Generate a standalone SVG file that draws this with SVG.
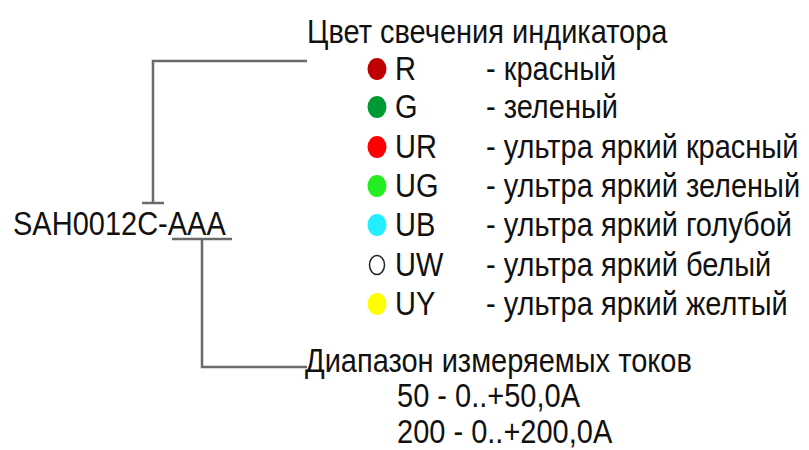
<svg xmlns="http://www.w3.org/2000/svg" width="809" height="450" viewBox="0 0 809 450">
<style>
text{font-family:"Liberation Sans",Arial,sans-serif;font-size:29px;fill:#111}
.ln{fill:none;stroke:#6a6a6a;stroke-width:2.5}
</style>
<rect width="809" height="450" fill="#fff"/>
<g id="connectors">
<polyline class="ln" points="307,61 153,61 153,203"/>
<line class="ln" x1="142" y1="203" x2="164" y2="203"/>
<line class="ln" x1="172" y1="239" x2="232" y2="239"/>
<polyline class="ln" points="202,239 202,367 307,367"/>
</g>
<g id="part-number"><text transform="translate(13,235) scale(1 1.15)">SAH0012C-AAA</text></g>
<g id="color-title"><text transform="translate(307,43) scale(1 1.15)">Цвет свечения индикатора</text></g>
<g id="legend">
<ellipse cx="377" cy="69" rx="9.5" ry="11" fill="#c00000"/>
<text transform="translate(395,80) scale(1 1.15)">R</text><text transform="translate(486,80) scale(1 1.15)">- красный</text>
<ellipse cx="377" cy="107" rx="9.5" ry="11" fill="#009933"/>
<text transform="translate(395,118) scale(1 1.15)">G</text><text transform="translate(486,118) scale(1 1.15)">- зеленый</text>
<ellipse cx="377" cy="147" rx="9.5" ry="11" fill="#ff0000"/>
<text transform="translate(395,158) scale(1 1.15)">UR</text><text transform="translate(486,158) scale(1 1.15)">- ультра яркий красный</text>
<ellipse cx="377" cy="186" rx="9.5" ry="11" fill="#22ee22"/>
<text transform="translate(395,197) scale(1 1.15)">UG</text><text transform="translate(486,197) scale(1 1.15)">- ультра яркий зеленый</text>
<ellipse cx="377" cy="225" rx="9.5" ry="11" fill="#22eeff"/>
<text transform="translate(395,236) scale(1 1.15)">UB</text><text transform="translate(486,236) scale(1 1.15)">- ультра яркий голубой</text>
<ellipse cx="377" cy="265" rx="7.5" ry="9.5" fill="#fff" stroke="#222" stroke-width="1.5"/>
<text transform="translate(395,276) scale(1 1.15)">UW</text><text transform="translate(486,276) scale(1 1.15)">- ультра яркий белый</text>
<ellipse cx="377" cy="304" rx="9.5" ry="11" fill="#ffff00"/>
<text transform="translate(395,315) scale(1 1.15)">UY</text><text transform="translate(486,315) scale(1 1.15)">- ультра яркий желтый</text>
</g>
<g id="current-range">
<text transform="translate(305,372) scale(1 1.15)">Диапазон измеряемых токов</text>
<text transform="translate(397,407) scale(1 1.15)">50 - 0..+50,0A</text>
<text transform="translate(397,443) scale(1 1.15)">200 - 0..+200,0A</text>
</g>
</svg>
